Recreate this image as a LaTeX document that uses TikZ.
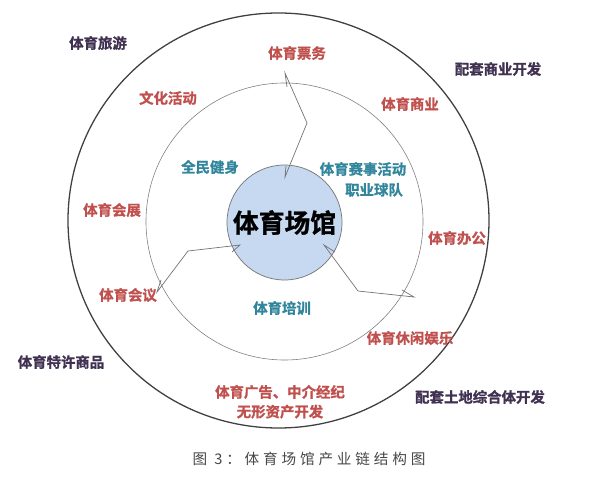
\documentclass[tikz,border=0pt]{standalone}
\usepackage{fontspec}
\setmainfont{Noto Sans CJK SC}[BoldFont={Noto Sans CJK SC Bold}, BoldFeatures={FakeBold=1.2}]
\newfontfamily\capfont{Noto Sans CJK SC}[LetterSpace=26]
\definecolor{ringred}{HTML}{C0504D}
\definecolor{ringpurple}{HTML}{403151}
\definecolor{ringteal}{HTML}{31859C}
\definecolor{hubblue}{HTML}{C6D9F1}
\usetikzlibrary{positioning, shapes.geometric}

\begin{document}
\begin{tikzpicture}[
    x=0.03cm, y=-0.03cm,
    lbl/.style={inner sep=0pt, font=\fontsize{12.3}{14}\selectfont\bfseries},
    outerlbl/.style={lbl, text=ringpurple},
    midlbl/.style={lbl, text=ringred},
    innerlbl/.style={lbl, text=ringteal},
    link/.style={draw=black!55, line width=0.6pt, line join=miter}
  ]
    \useasboundingbox (0,0) rectangle (609,483);

    % rings and hub
    \node[draw=black!75, line width=1.1pt, ellipse, inner sep=0pt,
          minimum width=12.63cm, minimum height=12.45cm] (outer) at (278.5,220.5) {};
    \node[draw=black!50, line width=0.5pt, circle, inner sep=0pt,
          minimum size=8.31cm] (inner) at (284.5,221.5) {};
    \node[draw=black!55, fill=hubblue, line width=0.6pt, circle, inner sep=0pt,
          minimum size=3.45cm, font=\fontsize{22}{24}\selectfont\bfseries]
          (hub) at (284.5,222.5) {体育场馆};

    % outer ring
    \node[outerlbl] (tour) at (98,43) {体育旅游};
    \node[outerlbl] (retail) at (498,69) {配套商业开发};
    \node[outerlbl] (merch) at (61,362) {体育特许商品};
    \node[outerlbl] (land) at (480,397) {配套土地综合体开发};

    % middle ring
    \node[midlbl] (ticket) at (297,53) {体育票务};
    \node[midlbl] (culture) at (168,98) {文化活动};
    \node[midlbl] (commerce) at (410,104) {体育商业};
    \node[midlbl] (expo) at (112,210) {体育会展};
    \node[midlbl] (office) at (457,238) {体育办公};
    \node[midlbl] (meeting) at (128,295) {体育会议};
    \node[midlbl] (leisure) at (410,338) {体育休闲娱乐};
    \node[midlbl] (advert) at (280,392) {体育广告、中介经纪};
    \node[midlbl, below=0.16cm of advert] (intangible) {无形资产开发};

    % inner ring
    \node[innerlbl] (fitness) at (210,167) {全民健身};
    \node[innerlbl] (event) at (363,169) {体育赛事活动};
    \node[innerlbl, below=0.2cm of event, xshift=0.33cm] (club) {职业球队};
    \node[innerlbl] (training) at (282,308) {体育培训};

    % arrows into the hub
    \coordinate (topT) at (285,73);   \coordinate (topS) at (287,87);
    \coordinate (topB) at (307,123);
    \coordinate (topH) at (285,177);  \coordinate (topR) at (286,166);
    \coordinate (rgtT) at (414,297);  \coordinate (rgtS) at (402,290);
    \coordinate (rgtB) at (358,291);
    \coordinate (rgtH) at (324,245);  \coordinate (rgtR) at (335,252);
    \coordinate (lftT) at (157,292);  \coordinate (lftS) at (161,280);
    \coordinate (lftB) at (188,251);
    \coordinate (lftH) at (240,245);  \coordinate (lftR) at (232,252);

    \draw[link] (topS) -- (topT) -- (topB) -- (topH) -- (topR);
    \draw[link] (rgtS) -- (rgtT) -- (rgtB) -- (rgtH) -- (rgtR);
    \draw[link] (lftS) -- (lftT) -- (lftB) -- (lftH) -- (lftR);

    % caption
    \node[inner sep=0pt, text=black!72, font=\capfont\fontsize{12.5}{14}\selectfont]
      (caption) at (309,459) {图 3：体育场馆产业链结构图};
  \end{tikzpicture}
\end{document}
